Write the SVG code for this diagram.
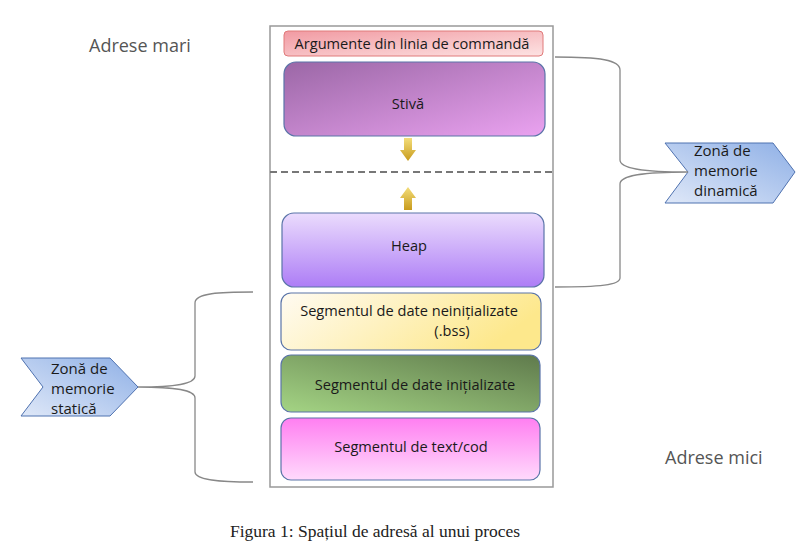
<svg xmlns="http://www.w3.org/2000/svg" width="800" height="555" viewBox="0 0 800 555">
<defs>
<linearGradient id="gArg" x1="0" y1="0" x2="1" y2="1"><stop offset="0" stop-color="#f19aa2"/><stop offset="1" stop-color="#fde3e3"/></linearGradient>
<linearGradient id="gStiva" x1="0" y1="0" x2="1" y2="1"><stop offset="0" stop-color="#9b67a6"/><stop offset="1" stop-color="#eaa2f0"/></linearGradient>
<linearGradient id="gHeap" x1="0" y1="0" x2="0" y2="1"><stop offset="0" stop-color="#ebdcfd"/><stop offset="1" stop-color="#ad7df6"/></linearGradient>
<linearGradient id="gBss" x1="0" y1="0" x2="1" y2="0.3"><stop offset="0" stop-color="#fffbf2"/><stop offset="1" stop-color="#fde88c"/></linearGradient>
<linearGradient id="gInit" x1="0" y1="1" x2="1" y2="0"><stop offset="0" stop-color="#a4d484"/><stop offset="1" stop-color="#5f7a4c"/></linearGradient>
<linearGradient id="gText" x1="0" y1="0" x2="0" y2="1"><stop offset="0" stop-color="#ff7ff1"/><stop offset="1" stop-color="#ffdafc"/></linearGradient>
<linearGradient id="gChev" x1="0" y1="1" x2="1" y2="0"><stop offset="0" stop-color="#dfe8f8"/><stop offset="1" stop-color="#8fb0e6"/></linearGradient>
<linearGradient id="gArrowV" x1="0" y1="0" x2="0" y2="1"><stop offset="0" stop-color="#f3dd7a"/><stop offset="1" stop-color="#c89b1c"/></linearGradient>
</defs>
<style>
.seg{stroke:#5a74a8;stroke-width:1.2}
.lbl{font-family:"Open Sans","Liberation Sans",sans-serif;font-size:14.6px;fill:#1a1a1a}
.zl{font-family:"Open Sans","Liberation Sans",sans-serif;font-size:15px;fill:#1a1a1a}
.side{font-family:"Open Sans","Liberation Sans",sans-serif;font-size:18px;fill:#555}
.chev{fill:url(#gChev);stroke:#4f72b0;stroke-width:1}
.brace{fill:none;stroke:#888;stroke-width:1.3}
</style>
<rect x="0" y="0" width="800" height="555" fill="#ffffff"/>
<g id="container"><rect x="270" y="26" width="283" height="461" fill="#fff" stroke="#999" stroke-width="1.5"/></g>
<text class="side" x="89" y="52">Adrese mari</text>
<text class="side" x="665" y="464">Adrese mici</text>
<g id="argumente"><rect x="284" y="31" width="259" height="25" rx="4" fill="url(#gArg)" stroke="#e07a7a" stroke-width="1"/><text class="lbl" x="412" y="49" text-anchor="middle">Argumente din linia de commandă</text></g>
<g id="stiva"><rect x="284" y="62" width="261" height="74" rx="12" fill="url(#gStiva)" class="seg"/><text class="lbl" x="408" y="109" text-anchor="middle">Stivă</text></g>
<g id="heap"><rect x="282" y="213" width="262" height="74" rx="12" fill="url(#gHeap)" class="seg"/><text class="lbl" x="409" y="251" text-anchor="middle">Heap</text></g>
<g id="bss"><rect x="281" y="293" width="260" height="57" rx="10" fill="url(#gBss)" class="seg"/><text class="lbl" x="409" y="316" text-anchor="middle">Segmentul de date neinițializate</text><text class="lbl" x="452" y="336" text-anchor="middle">(.bss)</text></g>
<g id="init"><rect x="281" y="355" width="259" height="57" rx="10" fill="url(#gInit)" class="seg"/><text class="lbl" x="415" y="390" text-anchor="middle">Segmentul de date inițializate</text></g>
<g id="textcod"><rect x="281" y="418" width="259" height="62" rx="10" fill="url(#gText)" class="seg"/><text class="lbl" x="411" y="452" text-anchor="middle">Segmentul de text/cod</text></g>
<g id="static-zone"><polygon class="chev" points="21,358 110,358 138,387 110,416 21,416 43,387"/><text class="zl" x="51" y="374">Zonă de</text><text class="zl" x="51" y="394">memorie</text><text class="zl" x="51" y="414">statică</text></g>
<g id="dynamic-zone"><polygon class="chev" points="665,143 773,143 795,172 773,203 665,203 688,172"/><text class="zl" x="694" y="156">Zonă de</text><text class="zl" x="694" y="176">memorie</text><text class="zl" x="694" y="196">dinamică</text></g>
<g id="connectors">
<line x1="270" y1="172" x2="553" y2="172" stroke="#777" stroke-width="2" stroke-dasharray="7,4"/>
<polygon points="404,138 412,138 412,150 416,150 408,161 400,150 404,150" fill="url(#gArrowV)"/>
<polygon points="404,210 412,210 412,198 416,198 408,187 400,198 404,198" fill="url(#gArrowV)"/>
<path class="brace" d="M555,57 C600,57 620,60 620,70 L620,160 C620,168 640,172 688,172 C640,172 620,176 620,184 L620,278 C620,285 600,287 555,287"/>
<path class="brace" d="M253,292 C220,292 195,293 195,303 L195,376 C195,384 175,387 138,387 C175,387 195,390 195,398 L195,472 C195,480 220,482 253,482"/>
</g>
<text x="375" y="537" text-anchor="middle" font-family="'Liberation Serif','DejaVu Serif',serif" font-size="17.5" fill="#222">Figura 1: Spațiul de adresă al unui proces</text>
</svg>
